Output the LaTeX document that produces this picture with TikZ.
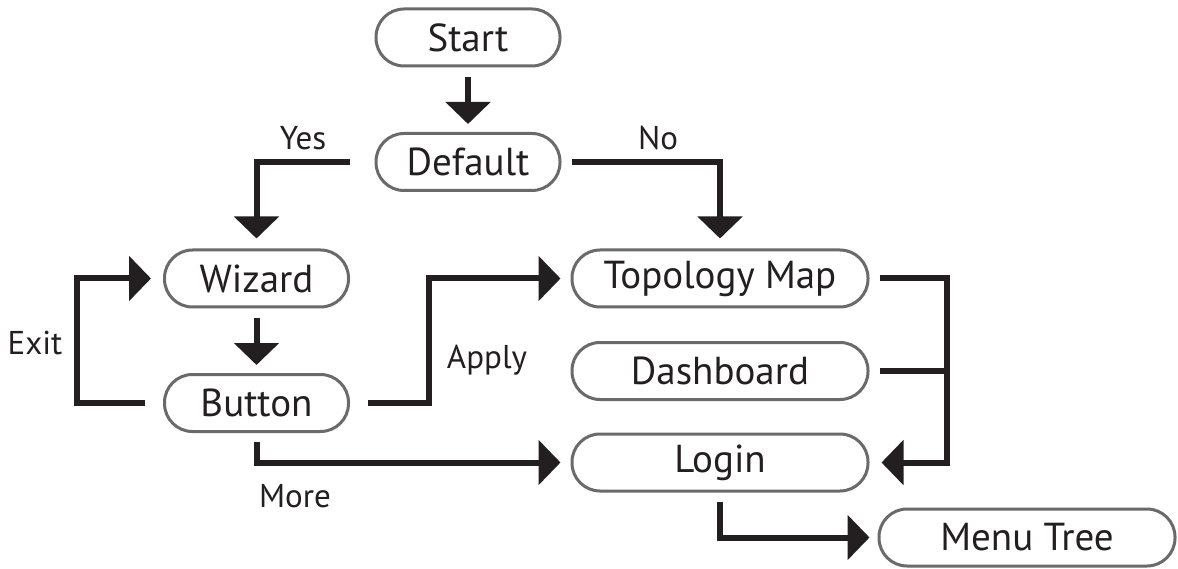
\documentclass[tikz,border=0pt]{standalone}
\usepackage{fontspec}
\setmainfont{PT Sans}
\usetikzlibrary{arrows.meta}
\definecolor{ink}{HTML}{231F20}
\definecolor{rim}{HTML}{6A6A6A}
\begin{document}
\begin{tikzpicture}[x=1pt,y=-1pt,
  box/.style={draw=rim, line width=3pt, rounded corners=28pt, fill=white,
    minimum height=57pt, inner sep=0pt, text=ink, font=\fontsize{39}{42}\selectfont},
  small/.style={box, minimum width=184pt},
  big/.style={box, minimum width=296pt},
  arr/.style={draw=ink, line width=6pt, line join=miter, -{Triangle[length=22pt,width=44pt]}},
  plain/.style={draw=ink, line width=6pt, line join=miter},
  lbl/.style={text=ink, font=\fontsize{33}{36}\selectfont, anchor=base, inner sep=0pt}]
\useasboundingbox (0,0) rectangle (1178,569);
\fill[white] (0,0) rectangle (1178,569);
% nodes
\node[small] (start)   at (468,37.5)  {Start};
\node[small] (default) at (468,162)   {Default};
\node[small] (wizard)  at (256.5,278.5) {Wizard};
\node[small] (button)  at (256.5,403) {Button};
\node[big]   (topo)    at (720,278.5) {Topology Map};
\node[big]   (dash)    at (720,371)   {Dashboard};
\node[big]   (login)   at (720,462.5) {Login};
\node[big]   (menu)    at (1027,537.5) {Menu Tree};
% connectors
\draw[arr] ([yshift=-10pt]start.south) -- ([yshift=8pt]default.north);
\draw[arr] ([xshift=-25pt]default.west) -| ([yshift=10pt]wizard.north);
\draw[arr] ([xshift=10pt]default.east) -| ([yshift=10pt]topo.north);
\draw[arr] ([yshift=-10pt]wizard.south) -- ([yshift=8pt]button.north);
\draw[arr] ([xshift=-18pt]button.west) -- ++(-68,0) |- ([xshift=-12pt]wizard.west);
\draw[arr] ([xshift=18pt]button.east) -- ++(61,0) |- ([xshift=-10pt]topo.west);
\draw[arr] ([yshift=-9pt]button.south) |- ([xshift=-10pt]login.west);
\draw[arr] ([xshift=10pt]topo.east) -- ++(67,0) |- ([xshift=12pt]login.east);
\draw[plain] ([xshift=10pt]dash.east) -- ([xshift=77pt]dash.east);
\draw[arr] ([yshift=-9pt]login.south) |- ([xshift=-8pt]menu.west);
% labels
\node[lbl] (yes)   at (303,150) {Yes};
\node[lbl] (no)    at (658,150) {No};
\node[lbl] (exit)  at (35,355)  {Exit};
\node[lbl] (apply) at (487,368) {Apply};
\node[lbl] (more)  at (295,507) {More};
\end{tikzpicture}
\end{document}
